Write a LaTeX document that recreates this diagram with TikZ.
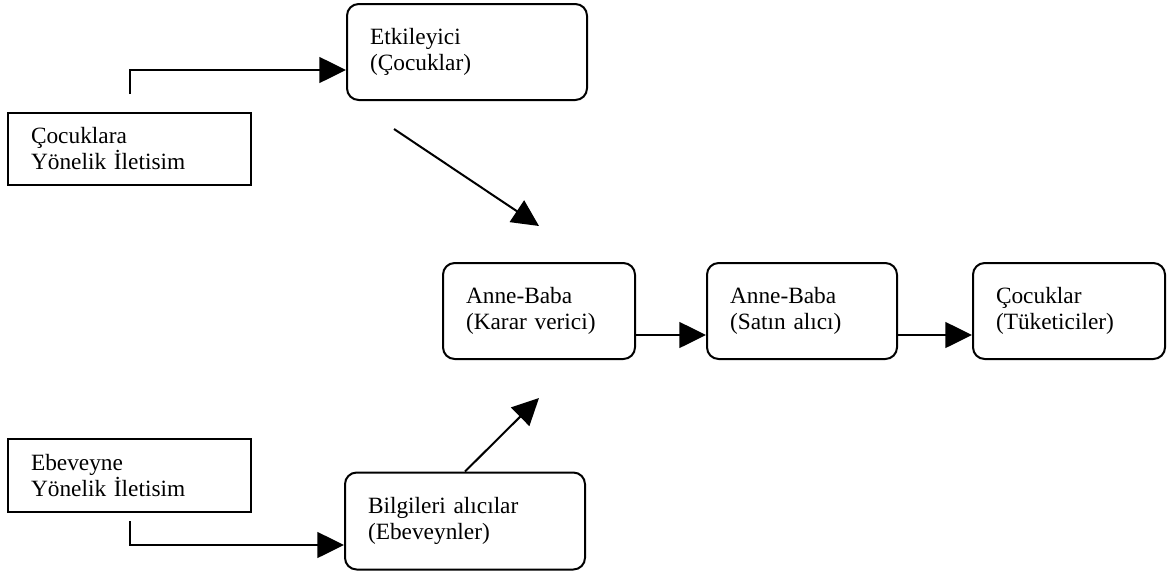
\documentclass[tikz,border=0pt]{standalone}
\usepackage{fontspec}
\setmainfont{Liberation Serif}
\usetikzlibrary{arrows.meta}

\begin{document}
\begin{tikzpicture}[x=0.6pt, y=-0.6pt,
    plainbox/.style={draw, line width=1.2pt, align=left, inner xsep=13.8pt,
      font=\fontsize{14}{15.6}\selectfont},
    roundbox/.style={plainbox, rounded corners=7pt},
    flow/.style={line width=1.2pt, -{Triangle[length=16pt, width=15.5pt]}}]
  \useasboundingbox (0,0) rectangle (1175,573);

  % Communication boxes
  \node[plainbox, text width=118.2pt, minimum height=43.2pt] (cocuklara) at (129.5,149) {Çocuklara\\Yönelik İletisim};
  \node[plainbox, text width=118.2pt, minimum height=43.8pt] (ebeveyne) at (129.5,475.5) {Ebeveyne\\Yönelik İletisim};

  % Roles
  \node[roundbox, text width=116.4pt, minimum height=57.6pt] (etkileyici) at (467,52) {Etkileyici\\(Çocuklar)};
  \node[roundbox, text width=116.4pt, minimum height=58.2pt] (bilgileri) at (465,521) {Bilgileri alıcılar\\(Ebeveynler)};
  \node[roundbox, text width=87.6pt, minimum height=57.6pt] (karar) at (539,311) {Anne-Baba\\(Karar verici)};
  \node[roundbox, text width=86.4pt, minimum height=57.6pt] (satin) at (802,311) {Anne-Baba\\(Satın alıcı)};
  \node[roundbox, text width=87.6pt, minimum height=57.6pt] (tuketici) at (1069,311) {Çocuklar\\(Tüketiciler)};

  % Arrows
  \draw[flow] ([yshift=10.8pt]cocuklara.north) |- ([yshift=-10.8pt]etkileyici.west);
  \draw[flow] ([yshift=-4.8pt]ebeveyne.south) |- ([yshift=-14.4pt]bilgileri.west);
  \draw[flow] ([xshift=-43.8pt, yshift=-16.8pt]etkileyici.south) -- ([yshift=21.6pt]karar.north);
  \draw[flow] (bilgileri.north) -- ([yshift=-22.8pt]karar.south);
  \draw[flow] ([yshift=-14.4pt]karar.east) -- ([yshift=-14.4pt]satin.west);
  \draw[flow] ([yshift=-14.4pt]satin.east) -- ([yshift=-14.4pt]tuketici.west);
\end{tikzpicture}
\end{document}
